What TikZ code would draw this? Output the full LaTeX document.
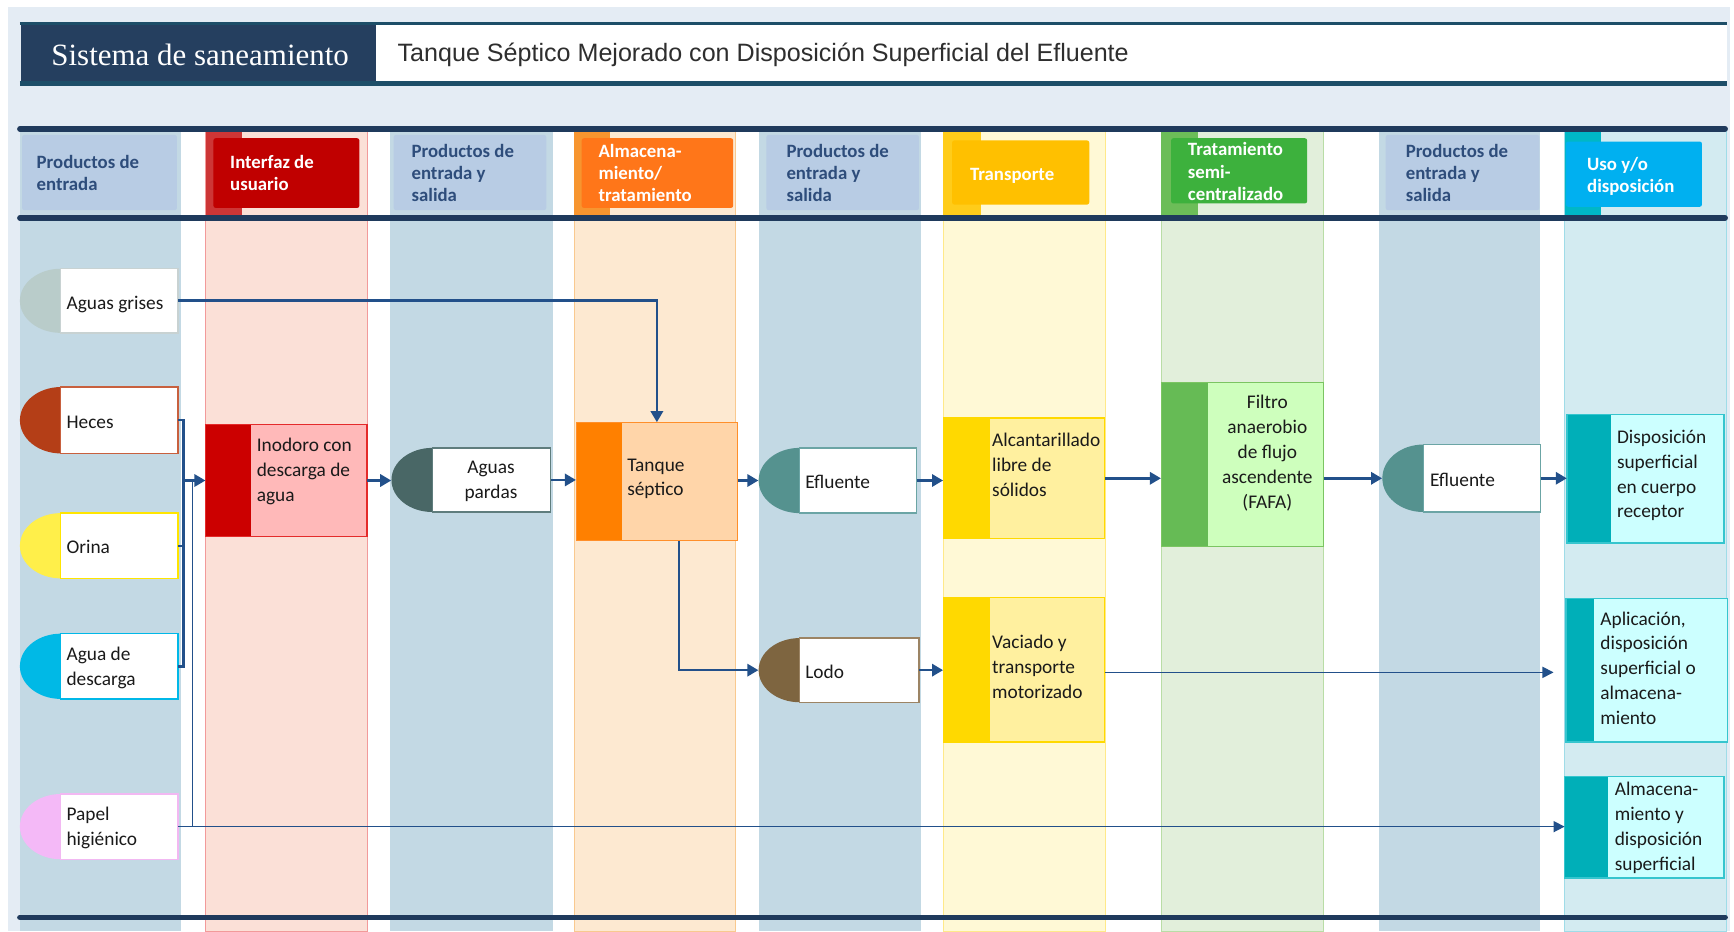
\documentclass[tikz,border=0pt]{standalone}
\usepackage{fontspec}
\setmainfont{Carlito}
\newfontfamily\serifT{Liberation Serif}
\newfontfamily\sansT{Liberation Sans}
\usetikzlibrary{arrows.meta,calc}
\definecolor{bgblue}{HTML}{E4ECF4}
\definecolor{titleline}{HTML}{1D4E68}
\definecolor{titlebox}{HTML}{253F5F}
\definecolor{navyline}{HTML}{1F3A5C}
\definecolor{prodlane}{HTML}{C3D9E4}
\definecolor{prodhead}{HTML}{B8CCE4}
\definecolor{headtxt}{HTML}{2E4D7B}
\definecolor{conn}{HTML}{22508A}
\definecolor{laneR}{HTML}{FBE0D7}\definecolor{laneRb}{HTML}{F29A9A}
\definecolor{stripR}{HTML}{CD3636}\definecolor{headR}{HTML}{C00000}
\definecolor{laneO}{HTML}{FDE9D1}\definecolor{laneOb}{HTML}{F9C98F}
\definecolor{stripO}{HTML}{F7952F}\definecolor{headO}{HTML}{FF7619}
\definecolor{laneY}{HTML}{FFF9D6}\definecolor{laneYb}{HTML}{FFE98A}
\definecolor{stripY}{HTML}{FFCC1A}\definecolor{headY}{HTML}{FFC000}
\definecolor{laneG}{HTML}{E2EFDB}\definecolor{laneGb}{HTML}{B9DDA6}
\definecolor{stripG}{HTML}{6CBD58}\definecolor{headG}{HTML}{3DB13D}
\definecolor{laneC}{HTML}{D3EBF1}\definecolor{laneCb}{HTML}{9FDCE8}
\definecolor{stripC}{HTML}{00B7C6}\definecolor{headC}{HTML}{00B0F0}
% process node colours
\definecolor{Rstrip}{HTML}{CC0000}\definecolor{Rfill}{HTML}{FFB9B9}\definecolor{Rbord}{HTML}{E42B2B}
\definecolor{Ostrip}{HTML}{FF8000}\definecolor{Ofill}{HTML}{FFD5A9}\definecolor{Obord}{HTML}{FF8F2A}
\definecolor{Ystrip}{HTML}{FFD900}\definecolor{Yfill}{HTML}{FFF09F}\definecolor{Ybord}{HTML}{FFD900}
\definecolor{Gstrip}{HTML}{66BB55}\definecolor{Gfill}{HTML}{CEFFBD}\definecolor{Gbord}{HTML}{7BC562}
\definecolor{Cstrip}{HTML}{00AFB8}\definecolor{Cfill}{HTML}{CCFFFF}\definecolor{Cbord}{HTML}{36C5CE}
% product node colours
\definecolor{agS}{HTML}{B9CCCA}\definecolor{agB}{HTML}{C8D2D2}
\definecolor{heS}{HTML}{B43E17}\definecolor{heB}{HTML}{C8603E}
\definecolor{orS}{HTML}{FFEF4A}\definecolor{orB}{HTML}{FFE500}
\definecolor{adS}{HTML}{00B9E6}\definecolor{adB}{HTML}{00B8E8}
\definecolor{paS}{HTML}{F4B9F7}\definecolor{paB}{HTML}{F2B8F2}
\definecolor{apS}{HTML}{496766}\definecolor{apB}{HTML}{5F7D7D}
\definecolor{efS}{HTML}{55928F}\definecolor{efB}{HTML}{6BA5A5}
\definecolor{loS}{HTML}{7E6540}\definecolor{loB}{HTML}{9C8464}
\definecolor{bodytxt}{HTML}{1A1A1A}

\newcommand\PNode[9]{%
  \node[inner sep=0, minimum width={#3-(#2)}, minimum height={#5-(#4)}] (#1) at ({(#2+#3)/2},{(#4+#5)/2}) {};
  \fill[#6] (#2+37,#4) arc[start angle=270, end angle=90, x radius=37, y radius={(#5-#4)/2}] -- cycle;
  \draw[#7, line width=1.2, fill=white] (#2+37,#4) rectangle (#3,#5);
  \node[txt, #8] (#1-t) {#9};
}
\newcommand\QNode[9]{%
  \node[inner sep=0, minimum width={#3-(#2)}, minimum height={#5-(#4)}, fill=#7fill] (#1) at ({(#2+#3)/2},{(#4+#5)/2}) {};
  \fill[#7strip] (#2,#4) rectangle (#6,#5);
  \draw[#7bord, line width=1.2] (#2,#4) rectangle (#3,#5);
  \node[txt, #8] (#1-t) {#9};
}

\begin{document}
\begin{tikzpicture}[x=1pt,y=-1pt,
  txt/.style={inner sep=0, align=left, text=bodytxt, font=\fontsize{17.5}{22.5}\selectfont, yshift=-3pt,
    execute at begin node=\strut, execute at end node=\strut},
  hd/.style={inner sep=0, align=left, anchor=west, font=\bfseries\fontsize{17}{20}\selectfont, yshift=-3.5pt,
    execute at begin node=\strut, execute at end node=\strut},
  cn/.style={draw=conn, line width=2.4, -{Triangle[length=10pt,width=11pt]}},
  cnl/.style={draw=conn, line width=2.2},
  thinc/.style={draw=conn, line width=1.4},
  thina/.style={draw=conn, line width=1.4, -{Triangle[length=10pt,width=10pt]}},
  bigline/.style={draw=navyline, line width=5, line cap=round}]
\useasboundingbox (0,0) rectangle (1568,842);
\fill[white] (0,0) rectangle (1568,842);
\fill[bgblue] (7,6) rectangle (1564,842);
% title bar
\fill[white] (340,23) rectangle (1562,74);
\fill[titlebox] (19,23) rectangle (340,74);
\draw[titleline, line width=3] (18,21.5) -- (1562,21.5);
\draw[titleline, line width=4] (18,75.5) -- (1562,75.5);
\node[font=\serifT\fontsize{28}{33}\selectfont, text=white] (tt1) at (181,49.5) {Sistema de saneamiento};
\node[anchor=west, font=\sansT\fontsize{22.7}{27}\selectfont, text=black!82] (tt2) at (356,50) {Tanque Séptico Mejorado con Disposición Superficial del Efluente};
% body
\fill[white] (18,116) rectangle (1562,842);
\fill[prodlane] (18,116) rectangle (164,842);
\fill[prodlane] (353,116) rectangle (500,842);
\fill[prodlane] (686,116) rectangle (833,842);
\fill[prodlane] (1247,116) rectangle (1393,842);
\filldraw[fill=laneR, draw=laneRb, line width=0.8] (186,116) rectangle (332,842);
\filldraw[fill=laneO, draw=laneOb, line width=0.8] (519,116) rectangle (665,842);
\filldraw[fill=laneY, draw=laneYb, line width=0.8] (853,116) rectangle (1000,842);
\filldraw[fill=laneG, draw=laneGb, line width=0.8] (1050,116) rectangle (1197,842);
\filldraw[fill=laneC, draw=laneCb, line width=0.8] (1415,116) rectangle (1561,842);
% header strips and boxes
\fill[stripR] (186,116) rectangle (219,197);
\fill[stripO] (519,116) rectangle (552,197);
\fill[stripY] (853,116) rectangle (887,197);
\fill[stripG] (1050,116) rectangle (1083,197);
\fill[stripC] (1415,116) rectangle (1448,197);
\fill[prodhead, rounded corners=2] (20,122) rectangle (160,190);
\fill[headR, rounded corners=2] (193,125) rectangle (325,188);
\fill[prodhead, rounded corners=2] (356,122) rectangle (494,190);
\fill[headO, rounded corners=2] (526,125) rectangle (663,188);
\fill[prodhead, rounded corners=2] (693,122) rectangle (831,190);
\fill[headY, rounded corners=2] (861,127) rectangle (985,185);
\fill[headG, rounded corners=2] (1059,125) rectangle (1182,184);
\fill[prodhead, rounded corners=2] (1253,122) rectangle (1392,190);
\fill[headC, rounded corners=2] (1416,128) rectangle (1539,187);
\node[hd, text=headtxt] (h1) at (33,156) {Productos de\\entrada};
\node[hd, text=white] (h2) at (208,156) {Interfaz de\\usuario};
\node[hd, text=headtxt] (h3) at (372,156) {Productos de\\entrada y\\salida};
\node[hd, text=white] (h4) at (541,156) {Almacena-\\miento/\\tratamiento};
\node[hd, text=headtxt] (h5) at (711,156) {Productos de\\entrada y\\salida};
\node[hd, text=white] (h6) at (877,156) {Transporte};
\node[hd, text=white] (h7) at (1074,154.5) {Tratamiento\\semi-\\centralizado};
\node[hd, text=headtxt] (h8) at (1271,156) {Productos de\\entrada y\\salida};
\node[hd, text=white] (h9) at (1435,157.5) {Uso y/o\\disposición};
\draw[bigline] (18,116.5) -- (1560,116.5);
\draw[bigline] (18,197) -- (1560,197);
\draw[bigline] (18,829.5) -- (1560,829.5);
% product nodes
\PNode{ag}{18}{161}{243}{301}{agS}{agB}{anchor=west, at={(60,272)}}{Aguas grises}
\PNode{heces}{18}{161}{350}{410}{heS}{heB}{anchor=west, at={(60,380)}}{Heces}
\PNode{orina}{18}{161}{464}{523}{orS}{orB}{anchor=west, at={(60,493)}}{Orina}
\PNode{agua}{18}{161}{573}{632}{adS}{adB}{anchor=west, at={(60,602.5)}}{Agua de\\descarga}
\PNode{papel}{18}{161}{718}{777}{paS}{paB}{anchor=west, at={(60,747.5)}}{Papel\\higiénico}
\PNode{pardas}{354}{498}{405}{463}{apS}{apB}{anchor=center, align=center, at={(444,434.5)}}{Aguas\\pardas}
\PNode{ef1}{686}{829}{405}{464}{efS}{efB}{anchor=west, at={(728,434.5)}}{Efluente}
\PNode{lodo}{686}{831}{577}{635}{loS}{loB}{anchor=west, at={(728,606)}}{Lodo}
\PNode{ef2}{1250}{1393}{402}{463}{efS}{efB}{anchor=west, at={(1293,432.5)}}{Efluente}
% process nodes
\QNode{inodoro}{186}{332}{384}{485}{227}{R}{anchor=west, at={(232,425)}}{Inodoro con\\descarga de\\agua}
\QNode{tanque}{521}{667}{382}{489}{562}{O}{anchor=west, at={(567,432)}}{Tanque\\séptico}
\QNode{alc}{853}{999}{378}{487}{895}{Y}{anchor=west, at={(897,421)}}{Alcantarillado\\libre de\\sólidos}
\QNode{vac}{853}{999}{540}{671}{895}{Y}{anchor=west, at={(897,603.5)}}{Vaciado y\\transporte\\motorizado}
\QNode{fafa}{1050}{1197}{346}{494}{1092}{G}{anchor=center, align=center, at={(1146,409)}}{Filtro\\anaerobio\\de flujo\\ascendente\\(FAFA)}
\QNode{disp}{1417}{1559}{375}{491}{1457}{C}{anchor=west, at={(1462,429)}}{Disposición\\superficial\\en cuerpo\\receptor}
\QNode{aplic}{1416}{1562}{541}{671}{1441}{C}{anchor=west, at={(1447,604.5)}}{Aplicación,\\disposición\\superficial o\\almacena-\\miento}
\QNode{alm}{1415}{1559}{702}{794}{1454}{C}{anchor=west, at={(1460,747.5)}}{Almacena-\\miento y\\disposición\\superficial}
% connectors
\coordinate (bus) at (166,500);
\coordinate (pbus) at (174,600);
\draw[cn] (ag.east) -| (tanque.north);
\draw[cnl] (heces.east) -| (bus) |- (agua.east);
\draw[cnl] (orina.east) -- (orina.east -| bus);
\draw[thinc] (papel.east) -| (pbus |- inodoro.west);
\draw[cn] (bus |- inodoro.west) -- (inodoro.west);
\draw[thina] (papel.east) -- (papel.east -| alm.west);
\draw[cn] (inodoro.east) -- (inodoro.east -| pardas.west);
\draw[cn] (pardas.east) -- (pardas.east -| tanque.west);
\draw[cn] (ef1.west -| tanque.east) -- (ef1.west);
\draw[cn] (ef1.east) -- (ef1.east -| alc.west);
\draw[cn] (alc.east) -- (alc.east -| fafa.west);
\draw[cn] (ef2.west -| fafa.east) -- (ef2.west);
\draw[cn] (ef2.east) -- (ef2.east -| disp.west);
\draw[cn] ($(tanque.south)+(20,0)$) |- (lodo.west);
\draw[cn] (lodo.east) -- (lodo.east -| vac.west);
\draw[thina] ($(vac.east)+(0,2.5)$) -- ($(vac.east -| aplic.west)+(-11,2.5)$);
\end{tikzpicture}
\end{document}
